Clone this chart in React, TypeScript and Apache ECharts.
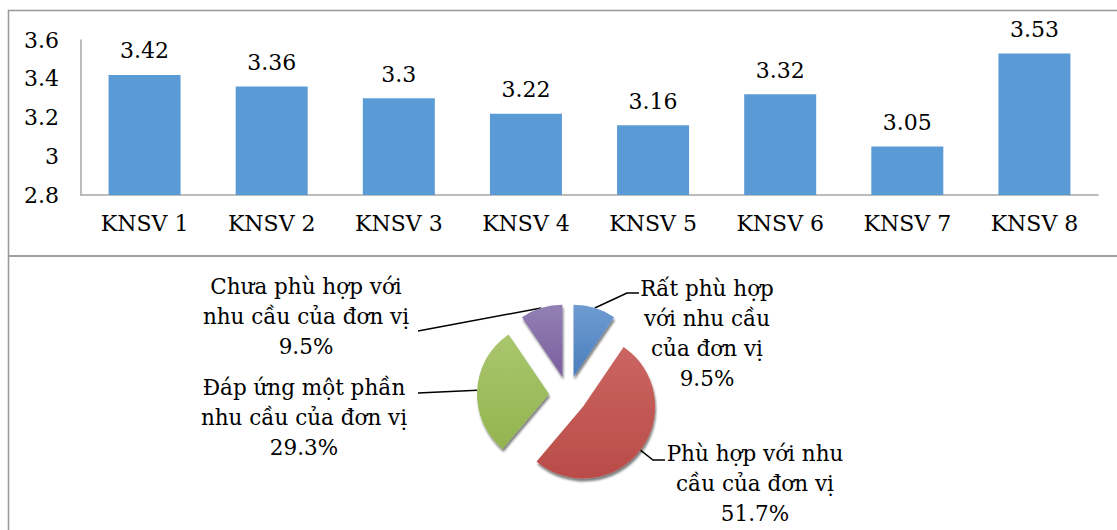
import React, { useEffect, useRef } from "react";
import * as echarts from "echarts";

const CATEGORIES = ["KNSV 1", "KNSV 2", "KNSV 3", "KNSV 4", "KNSV 5", "KNSV 6", "KNSV 7", "KNSV 8"];
const BAR_VALUES = [3.42, 3.36, 3.3, 3.22, 3.16, 3.32, 3.05, 3.53];
const Y_MIN = 2.8;
const Y_MAX = 3.6;
const Y_STEP = 0.2;

const PIE_NAMES = [
  "Rất phù hợp\nvới nhu cầu\ncủa đơn vị",
  "Phù hợp với nhu\ncầu của đơn vị",
  "Đáp ứng một phần\nnhu cầu của đơn vị",
  "Chưa phù hợp với\nnhu cầu của đơn vị",
];
const PIE_VALUES = [9.5, 51.7, 29.3, 9.5];
const PIE_COLORS = [
  ["#6f9bd2", "#4a7ebb"],
  ["#cb6561", "#b94c48"],
  ["#a9c66e", "#93b44f"],
  ["#9280b4", "#7a5f9e"],
];

// pie geometry & label layout (positions only)
const PIE_CX = 568;
const PIE_CY = 395;
const PIE_R = 72;
const PIE_OFFSET = 19;
const LABEL_X = [707, 755, 304, 306];
const LABEL_Y = [333, 483, 417, 316];
const LEADERS: number[][][] = [
  [[627, 293], [639, 293]],
  [[653, 460], [665, 460]],
  [[418, 393]],
  [[418, 331]],
];

const FONT = "DejaVu Serif";

export default function App() {
  const ref = useRef<HTMLDivElement>(null);
  useEffect(() => {
    if (!ref.current) return;
    const chart = echarts.init(ref.current, undefined, { renderer: "svg" });
    const pieData = PIE_NAMES.map((n, i) => ({
      name: n,
      value: PIE_VALUES[i],
      selected: true,
      itemStyle: {
        color: new echarts.graphic.LinearGradient(0, 0, 0, 1, [
          { offset: 0, color: PIE_COLORS[i][0] },
          { offset: 1, color: PIE_COLORS[i][1] },
        ]),
        shadowColor: "rgba(0,0,0,0.5)",
        shadowOffsetX: 1,
        shadowOffsetY: 3,
        shadowBlur: 2,
      },
    }));

    const total = PIE_VALUES.reduce((a, b) => a + b, 0);
    let acc = 0;
    const labelGraphics: any[] = [];
    PIE_VALUES.forEach((v, i) => {
      const mid = (acc + v / 2) / total;
      acc += v;
      const th = mid * Math.PI * 2;
      const dx = Math.sin(th);
      const dy = -Math.cos(th);
      const start = [PIE_CX + (PIE_R + PIE_OFFSET) * dx, PIE_CY + (PIE_R + PIE_OFFSET) * dy];
      labelGraphics.push({
        type: "polyline",
        silent: true,
        shape: { points: [start, ...LEADERS[i]] },
        style: { stroke: "#000", lineWidth: 1.5, fill: "none" },
      });
      labelGraphics.push({
        type: "text",
        silent: true,
        x: LABEL_X[i],
        y: LABEL_Y[i],
        style: {
          text: `${PIE_NAMES[i]}\n${v.toFixed(1)}%`,
          font: `21.5px ${FONT}`,
          lineHeight: 30,
          fill: "#000",
          align: "center",
          verticalAlign: "middle",
        },
      });
    });

    chart.setOption({
      animation: false,
      graphic: [
        {
          type: "rect",
          silent: true,
          shape: { x: 8.5, y: 10.5, width: 1200, height: 245.5 },
          style: { fill: "none", stroke: "#999", lineWidth: 1.5 },
        },
        {
          type: "rect",
          silent: true,
          shape: { x: 8.5, y: 256, width: 1200, height: 400 },
          style: { fill: "none", stroke: "#999", lineWidth: 1.5 },
        },
        ...labelGraphics,
      ],
      grid: { left: 81, right: 19, top: 40, height: 155, containLabel: false },
      xAxis: {
        type: "category",
        data: CATEGORIES,
        axisLine: { show: true, lineStyle: { color: "#a6a6a6", width: 1.5 } },
        axisTick: { show: false },
        axisLabel: { fontSize: 22, color: "#000", margin: 17, fontFamily: FONT },
      },
      yAxis: {
        type: "value",
        min: Y_MIN,
        max: Y_MAX,
        interval: Y_STEP,
        splitLine: { show: false },
        axisLine: { show: true, lineStyle: { color: "#a6a6a6", width: 1.5 } },
        axisTick: { show: false },
        axisLabel: { fontSize: 22, color: "#000", margin: 22, fontFamily: FONT },
      },
      series: [
        {
          type: "bar",
          data: BAR_VALUES,
          barWidth: 72,
          itemStyle: { color: "#5b9bd5" },
          label: {
            show: true,
            position: "top",
            distance: 13,
            fontSize: 22,
            color: "#000",
            fontFamily: FONT,
          },
        },
        {
          type: "pie",
          center: [PIE_CX, PIE_CY],
          radius: PIE_R,
          startAngle: 90,
          clockwise: true,
          selectedMode: "multiple",
          selectedOffset: PIE_OFFSET,
          data: pieData,
          label: { show: false },
          labelLine: { show: false },
          emphasis: { disabled: true },
        },
      ],
    });
    return () => chart.dispose();
  }, []);
  return (
    <div
      ref={ref}
      style={{ position: "absolute", left: 0, top: 0, width: 1117, height: 530, background: "#fff" }}
    />
  );
}
